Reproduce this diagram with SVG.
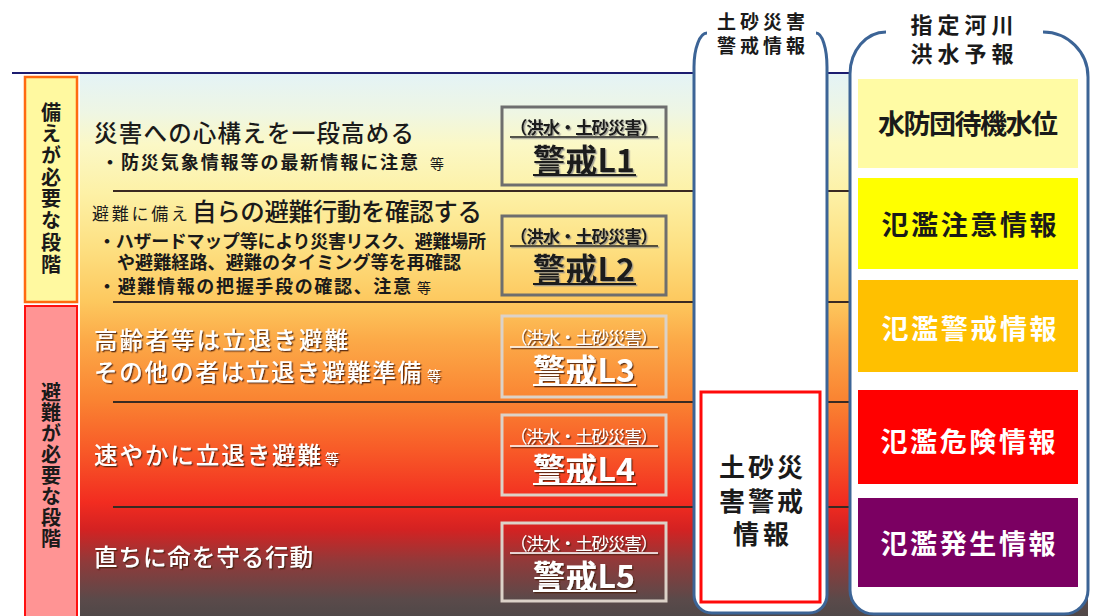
<svg xmlns="http://www.w3.org/2000/svg" width="1098" height="616" viewBox="0 0 1098 616">
<defs>
<linearGradient id="bg" x1="0" y1="74" x2="0" y2="616" gradientUnits="userSpaceOnUse">
<stop offset="0" stop-color="#e4f3f6"/>
<stop offset="0.07" stop-color="#eef6e4"/>
<stop offset="0.13" stop-color="#fbf8c6"/>
<stop offset="0.22" stop-color="#fdf1a6"/>
<stop offset="0.32" stop-color="#fde082"/>
<stop offset="0.42" stop-color="#fdc85e"/>
<stop offset="0.49" stop-color="#fcaa48"/>
<stop offset="0.60" stop-color="#fa8432"/>
<stop offset="0.69" stop-color="#f85c28"/>
<stop offset="0.79" stop-color="#f22c20"/>
<stop offset="0.84" stop-color="#d42222"/>
<stop offset="0.90" stop-color="#903a3a"/>
<stop offset="0.97" stop-color="#5a4a4a"/>
<stop offset="1" stop-color="#504848"/>
</linearGradient>
<filter id="shW" x="-5%" y="-20%" width="110%" height="140%"><feDropShadow dx="1.3" dy="1.3" stdDeviation="0.5" flood-color="#4a2010" flood-opacity="0.85"/></filter>
<filter id="shD" x="-5%" y="-20%" width="110%" height="140%"><feDropShadow dx="1.3" dy="1.3" stdDeviation="0.5" flood-color="#8a8a8a" flood-opacity="0.8"/></filter>
</defs>
<style>
text{font-family:'Noto Sans CJK JP','Noto Sans CJK SC','Noto Sans',sans-serif;}
.dk{fill:#1a1a1a;}
.wt{fill:#ffffff;}
.b{font-weight:bold;}
.m{font-weight:500;}
.mid{text-anchor:middle;}
.sep{stroke:#3a2a22;stroke-width:2;}
.lvD{fill:none;stroke:#6e6e6e;stroke-width:3;}
.lvL{fill:none;stroke:#dcd2c8;stroke-width:3;}
.ulD{stroke:#1a1a1a;}
.ulL{stroke:#ffffff;}
.col{fill:#ffffff;stroke:#3c6496;stroke-width:3;}
.vt{font-size:20px;font-weight:bold;fill:#1a1a1a;writing-mode:vertical-rl;}
.rb{font-size:27px;font-weight:bold;text-anchor:middle;}
</style>
<rect width="1098" height="616" fill="#ffffff"/>
<g id="background">
<rect x="80" y="74" width="1008" height="542" fill="url(#bg)"/>
<line x1="12" y1="73" x2="1088" y2="73" stroke="#1c1c70" stroke-width="2"/>
</g>
<g id="separators">
<line class="sep" x1="113" y1="191" x2="1088" y2="191"/>
<line class="sep" x1="113" y1="302" x2="1088" y2="302"/>
<line class="sep" x1="113" y1="402" x2="1088" y2="402"/>
<line class="sep" x1="113" y1="507" x2="1088" y2="507"/>
</g>
<g id="connectors"></g>
<g id="label-sonae">
<rect x="25" y="77" width="52" height="225" fill="#fff9a0" stroke="#ff6a10" stroke-width="2.5"/>
<text class="vt" x="51" y="102" textLength="172" lengthAdjust="spacing">備えが必要な段階</text>
</g>
<g id="label-hinan">
<rect x="25" y="306" width="52" height="312" fill="#ff9494" stroke="#ff1010" stroke-width="2"/>
<text class="vt" x="51" y="382" textLength="166" lengthAdjust="spacing">避難が必要な段階</text>
</g>
<g id="level1">
<text class="dk m" x="94" y="142" font-size="23.5" textLength="320" lengthAdjust="spacing">災害への心構えを一段高める</text>
<text class="dk b" x="101" y="169" font-size="18" textLength="317" lengthAdjust="spacing">・防災気象情報等の最新情報に注意</text>
<text class="dk" x="430" y="169" font-size="14">等</text>
<rect class="lvD" x="502" y="107" width="164" height="78"/>
<g filter="url(#shD)">
<text class="dk b mid" x="584" y="134" font-size="17.5" textLength="148" lengthAdjust="spacing">（洪水・土砂災害）</text>
<text class="dk b mid" x="584" y="172" font-size="32" textLength="102" lengthAdjust="spacing">警戒L1</text>
<line class="ulD" x1="510" y1="137" x2="658" y2="137" stroke-width="1.5"/>
<line class="ulD" x1="533" y1="175" x2="636" y2="175" stroke-width="2"/>
</g>
</g>
<g id="level2">
<text class="dk" x="92" y="220" font-size="17" textLength="96" lengthAdjust="spacing">避難に備え</text>
<text class="dk m" x="192" y="221" font-size="24.5" textLength="290" lengthAdjust="spacing">自らの避難行動を確認する</text>
<text class="dk b" x="98" y="248" font-size="18" textLength="388" lengthAdjust="spacing">・ハザードマップ等により災害リスク、避難場所</text>
<text class="dk b" x="117" y="269" font-size="18" textLength="344" lengthAdjust="spacing">や避難経路、避難のタイミング等を再確認</text>
<text class="dk b" x="98" y="293" font-size="18" textLength="313" lengthAdjust="spacing">・避難情報の把握手段の確認、注意</text>
<text class="dk" x="417" y="293" font-size="14">等</text>
<rect class="lvD" x="502" y="216" width="164" height="79"/>
<g filter="url(#shD)">
<text class="dk b mid" x="584" y="243" font-size="17.5" textLength="148" lengthAdjust="spacing">（洪水・土砂災害）</text>
<text class="dk b mid" x="584" y="281" font-size="32" textLength="102" lengthAdjust="spacing">警戒L2</text>
<line class="ulD" x1="510" y1="246" x2="658" y2="246" stroke-width="1.5"/>
<line class="ulD" x1="533" y1="284" x2="636" y2="284" stroke-width="2"/>
</g>
</g>
<g id="level3">
<g filter="url(#shW)">
<text class="wt m" x="94" y="349" font-size="23.5" textLength="254" lengthAdjust="spacing">高齢者等は立退き避難</text>
<text class="wt m" x="94" y="381" font-size="23.5" textLength="327" lengthAdjust="spacing">その他の者は立退き避難準備</text>
<text class="wt" x="427" y="381" font-size="14">等</text>
</g>
<rect class="lvL" x="502" y="316" width="164" height="81"/>
<g filter="url(#shW)">
<text class="wt mid" x="584" y="344" font-size="17.5" textLength="148" lengthAdjust="spacing">（洪水・土砂災害）</text>
<text class="wt b mid" x="584" y="382" font-size="32" textLength="102" lengthAdjust="spacing">警戒L3</text>
<line class="ulL" x1="510" y1="347" x2="658" y2="347" stroke-width="1.5"/>
<line class="ulL" x1="533" y1="385" x2="636" y2="385" stroke-width="2"/>
</g>
</g>
<g id="level4">
<g filter="url(#shW)">
<text class="wt m" x="94" y="464" font-size="23.5" textLength="227" lengthAdjust="spacing">速やかに立退き避難</text>
<text class="wt" x="325" y="464" font-size="14">等</text>
</g>
<rect class="lvL" x="502" y="415" width="164" height="80"/>
<g filter="url(#shW)">
<text class="wt mid" x="584" y="443" font-size="17.5" textLength="148" lengthAdjust="spacing">（洪水・土砂災害）</text>
<text class="wt b mid" x="584" y="481" font-size="32" textLength="102" lengthAdjust="spacing">警戒L4</text>
<line class="ulL" x1="510" y1="446" x2="658" y2="446" stroke-width="1.5"/>
<line class="ulL" x1="533" y1="484" x2="636" y2="484" stroke-width="2"/>
</g>
</g>
<g id="level5">
<g filter="url(#shW)">
<text class="wt m" x="94" y="566" font-size="23.5" textLength="219" lengthAdjust="spacing">直ちに命を守る行動</text>
</g>
<rect class="lvL" x="502" y="523" width="164" height="78"/>
<g filter="url(#shW)">
<text class="wt mid" x="584" y="550" font-size="17.5" textLength="148" lengthAdjust="spacing">（洪水・土砂災害）</text>
<text class="wt b mid" x="584" y="588" font-size="32" textLength="102" lengthAdjust="spacing">警戒L5</text>
<line class="ulL" x1="510" y1="553" x2="658" y2="553" stroke-width="1.5"/>
<line class="ulL" x1="533" y1="591" x2="636" y2="591" stroke-width="2"/>
</g>
</g>
<g id="column-dosha">
<path class="col" d="M 707 33 A 13 34 0 0 0 694 67 L 694 595 A 18 18 0 0 0 712 613 L 809 613 A 18 18 0 0 0 827 595 L 827 67 A 11 34 0 0 0 816 33"/>
<text class="dk b mid" x="761" y="29" font-size="19" textLength="88" lengthAdjust="spacing">土砂災害</text>
<text class="dk b mid" x="761" y="53" font-size="19" textLength="88" lengthAdjust="spacing">警戒情報</text>
<rect x="701" y="392" width="119" height="210" fill="#ffffff" stroke="#ff0a0a" stroke-width="3"/>
<text class="dk b mid" x="761" y="477" font-size="26" textLength="84" lengthAdjust="spacing">土砂災</text>
<text class="dk b mid" x="761" y="511" font-size="26" textLength="84" lengthAdjust="spacing">害警戒</text>
<text class="dk b mid" x="761" y="544" font-size="26" textLength="56" lengthAdjust="spacing">情報</text>
</g>
<g id="column-kasen">
<path class="col" d="M 886 32 A 36 42 0 0 0 850 74 L 850 590 A 24 24 0 0 0 874 614 L 1064 614 A 24 24 0 0 0 1088 590 L 1088 77 A 45 45 0 0 0 1043 32"/>
<text class="dk b mid" x="962" y="33" font-size="22" textLength="103" lengthAdjust="spacing">指定河川</text>
<text class="dk b mid" x="962" y="62" font-size="22" textLength="103" lengthAdjust="spacing">洪水予報</text>
</g>
<g id="box-suibou">
<rect x="858" y="79" width="220" height="89" fill="#fffba4"/>
<text class="rb dk m" x="968" y="134" font-size="23" textLength="180" lengthAdjust="spacing">水防団待機水位</text>
</g>
<g id="box-chui">
<rect x="858" y="178" width="220" height="91" fill="#ffff00"/>
<text class="rb dk" x="969" y="235" textLength="175" lengthAdjust="spacing">氾濫注意情報</text>
</g>
<g id="box-keikai">
<rect x="858" y="280" width="220" height="92" fill="#ffc000"/>
<text class="rb wt" x="969" y="339" textLength="175" lengthAdjust="spacing">氾濫警戒情報</text>
</g>
<g id="box-kiken">
<rect x="858" y="390" width="220" height="94" fill="#ff0000"/>
<text class="rb wt" x="968" y="452" textLength="175" lengthAdjust="spacing">氾濫危険情報</text>
</g>
<g id="box-hassei">
<rect x="858" y="498" width="220" height="89" fill="#7b0062"/>
<text class="rb wt" x="968" y="554" textLength="175" lengthAdjust="spacing">氾濫発生情報</text>
</g>
</svg>
